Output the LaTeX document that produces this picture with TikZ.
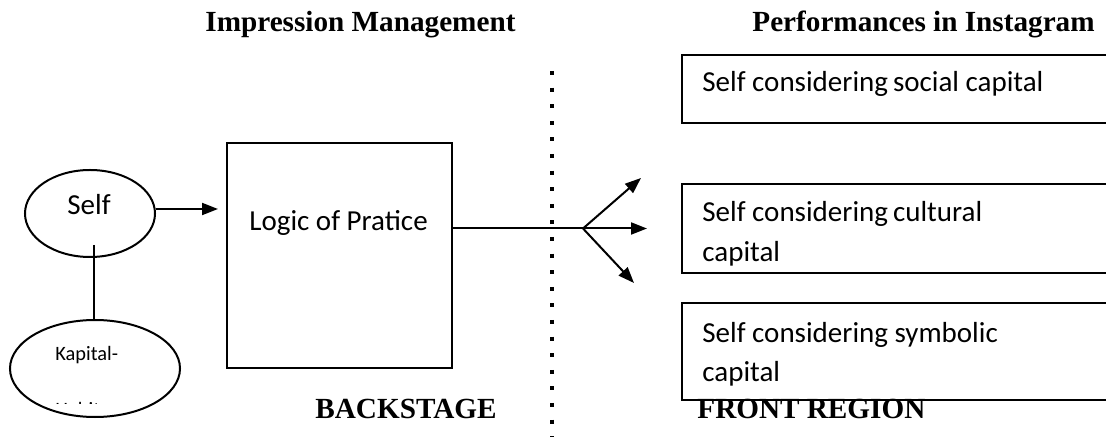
\documentclass[tikz,border=0pt]{standalone}
\usepackage{fontspec}
\setmainfont{Liberation Serif}
\newfontfamily\bodyFont{Carlito}
\usetikzlibrary{arrows.meta,shapes.geometric}
\tikzstyle{sheet} = [x = .5pt, y = -.5pt]
\tikzstyle{lineStyle} = [color=black, line width=1pt]
\tikzstyle{arrowStyle} = [lineStyle, -{Triangle[length=8pt, width=6pt]}]
\tikzstyle{dotLine} = [color=black, line width=2pt, dash pattern=on 2pt off 6.3pt]
\tikzstyle{ovalStyle} = [ellipse, draw, lineStyle, inner sep=0pt]
\tikzstyle{boxStyle} = [rectangle, draw, lineStyle, inner sep=0pt]
\tikzstyle{headText} = [font=\fontsize{14.6}{17}\selectfont\bfseries, inner sep=0pt, anchor=base west]
\tikzstyle{bodyText} = [font=\fontsize{14.5}{20}\selectfont\bodyFont, inner sep=0pt, anchor=base west, align=left]
\tikzstyle{smallText} = [font=\fontsize{10.2}{12}\selectfont\bodyFont, inner sep=0pt, anchor=base west]
\newcommand{\openBox}[3]{\draw [lineStyle] (1120,#1) -- (682,#1) -- (682,#2) -- (1120,#2); \coordinate (#3) at (682,#1);}

\begin{document}
\begin{tikzpicture}[sheet]
  \clip (0,0) rectangle (1106,437);
  % headings
  \node [headText] (impression) at (205,32) {Impression Management};
  \node [headText] (performances) at (752,32) {Performances in Instagram};
  \node [headText] (backstage) at (315,418) {BACKSTAGE};
  \node [headText] (front) at (697,418) {FRONT REGION};
  % divider
  \coordinate (dividerTop) at (551.5,71);
  \draw [dotLine] (dividerTop) -- (dividerTop |- 0,437);
  % left part
  \node [ovalStyle, minimum width=65pt, minimum height=43.5pt] (self) at (90,213.5) {};
  \node [bodyText] (selfText) at (67,215) {Self};
  \node [ovalStyle, minimum width=85pt, minimum height=48.5pt] (kapital) at (95,368.5) {};
  \node [smallText] (kapitalText) at (55,361) {Kapital-};
  \begin{scope}
    \clip (0,399) rectangle (200,403);
    \node [smallText] (habitusText) at (55,416) {Habitus};
  \end{scope}
  \node [boxStyle, minimum width=112.5pt, minimum height=112.5pt] (logicBox) at (339.5,255.5) {};
  \node [bodyText] (logicText) at (249,231) {Logic of Pratice};
  % right part
  \openBox{55}{123}{socialBox}
  \openBox{184}{273}{culturalBox}
  \openBox{303}{400}{symbolicBox}
  \node [bodyText] (socialText) at (702,92) {Self considering\hspace{2.5pt}social capital};
  \node [bodyText] (culturalText) at (702,262) {Self considering\hspace{2.5pt}cultural\\capital};
  \node [bodyText] (symbolicText) at (702,382) {Self considering symbolic\\capital};
  % connectors
  \coordinate (selfArrowEnd) at (218,209);
  \coordinate (selfLinkTop) at (94,245);
  \coordinate (fork) at (583,228.5);
  \coordinate (tipUp) at (641,178);
  \coordinate (tipMid) at (647,228.5);
  \coordinate (tipDown) at (634,283);
  \draw [arrowStyle] (self.east |- selfArrowEnd) -- (selfArrowEnd);
  \draw [lineStyle] (selfLinkTop) -- (selfLinkTop |- kapital.north);
  \draw [lineStyle] (logicBox.east |- fork) -- (fork);
  \foreach \tip in {tipUp,tipMid,tipDown}
    \draw [arrowStyle] (fork) -- (\tip);
\end{tikzpicture}
\end{document}
